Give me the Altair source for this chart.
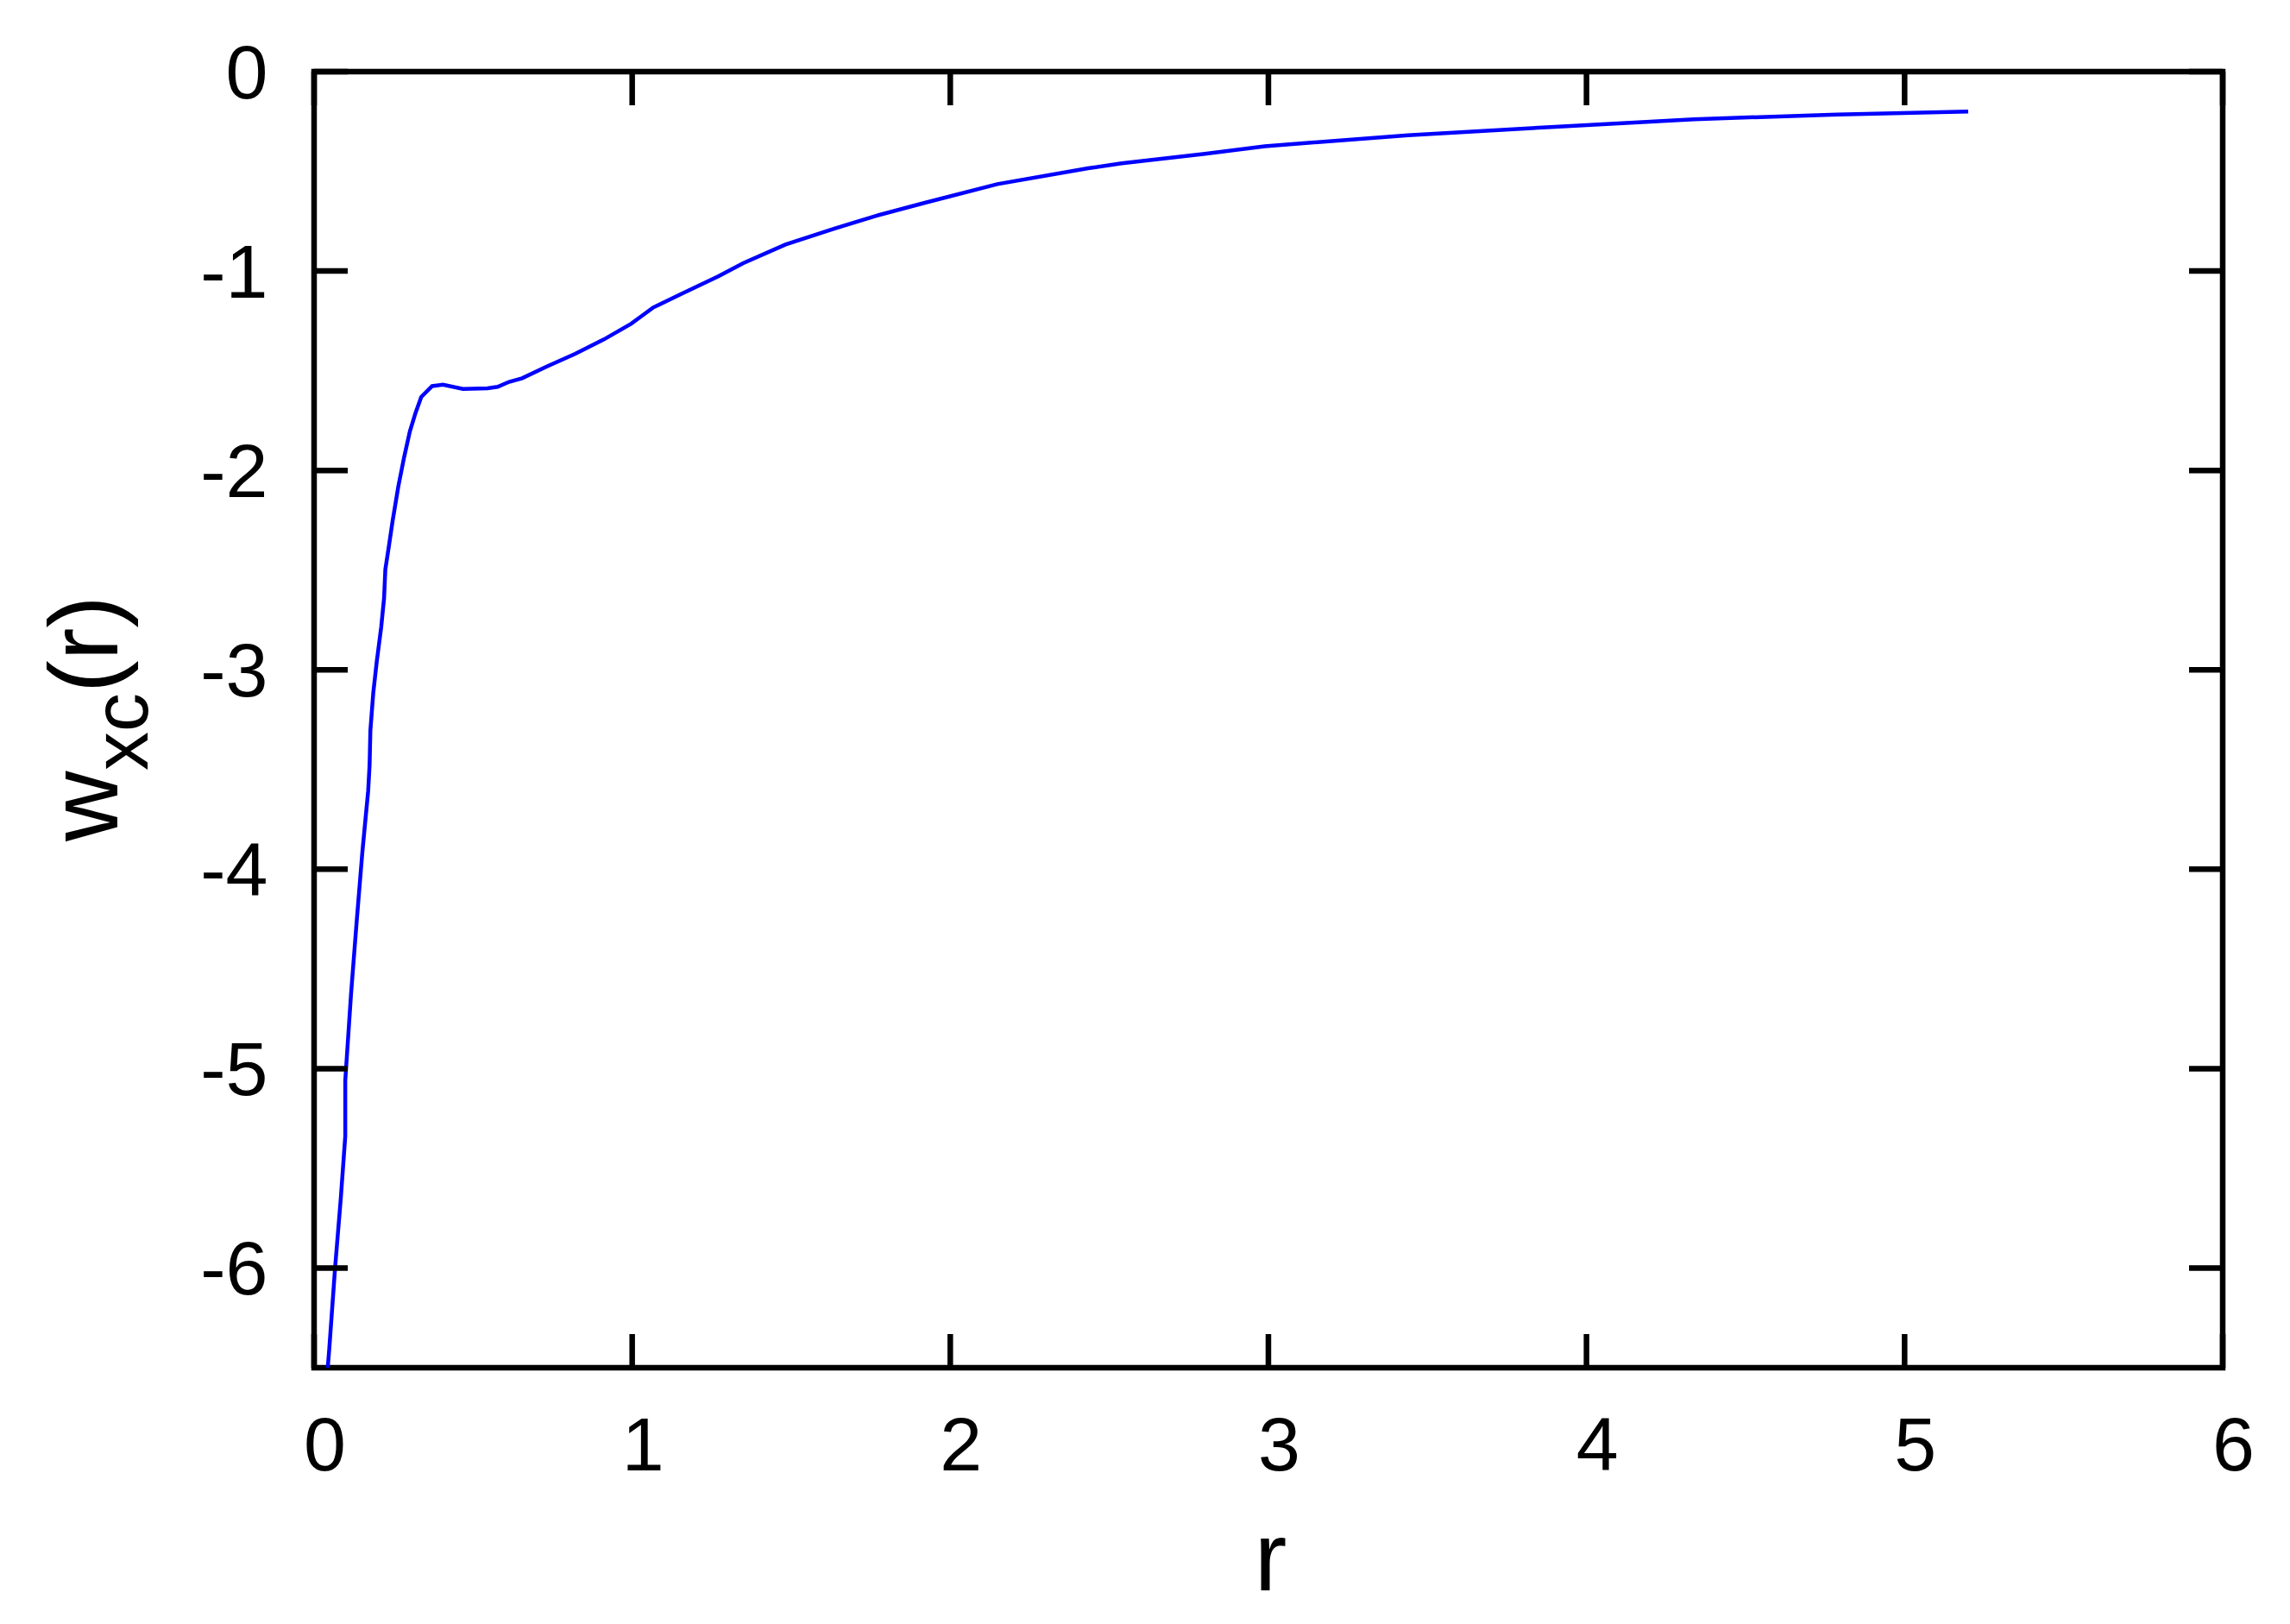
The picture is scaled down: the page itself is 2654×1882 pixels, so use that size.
import altair as alt
import pandas as pd

# ---- data ----
r_vals = [0.043, 0.048, 0.066, 0.084, 0.098, 0.098, 0.116, 0.134, 0.152, 0.170,
          0.1745, 0.177, 0.186, 0.197, 0.211, 0.220, 0.224, 0.235, 0.247, 0.265,
          0.283, 0.301, 0.319, 0.337, 0.371, 0.405, 0.468, 0.545, 0.577, 0.613,
          0.654, 0.730, 0.821, 0.911, 0.997, 1.038, 1.065, 1.158, 1.272, 1.349,
          1.482, 1.634, 1.767, 1.920, 2.148, 2.433, 2.539, 2.795, 2.989, 3.439,
          3.888, 4.338, 4.788, 5.200]
w_vals = [-6.50, -6.40, -6.00, -5.65, -5.34, -5.06, -4.63, -4.26, -3.91, -3.608,
          -3.478, -3.305, -3.117, -2.959, -2.786, -2.641, -2.497, -2.382, -2.252, -2.079,
          -1.934, -1.805, -1.711, -1.631, -1.577, -1.570, -1.591, -1.588, -1.581, -1.556,
          -1.538, -1.480, -1.415, -1.343, -1.264, -1.216, -1.184, -1.112, -1.026, -0.961,
          -0.867, -0.788, -0.723, -0.658, -0.564, -0.485, -0.460, -0.413, -0.374, -0.319,
          -0.278, -0.239, -0.215, -0.200]
x_ticks = [0, 1, 2, 3, 4, 5, 6]
y_ticks = [-6, -5, -4, -3, -2, -1, 0]
x_title = "r"
y_title_parts = ["w", "xc", "(r)"]

# ---- layout / style ----
W, H = 2212, 1502
TICK = 39
FONT = "Liberation Sans"
FRAMEW = 6.5
TICKW = 6.5

xs = alt.Scale(domain=[0, 6], nice=False, zero=False)
ys = alt.Scale(domain=[-6.5, 0], nice=False, zero=False)

curve = pd.DataFrame({"r": r_vals, "w": w_vals, "i": list(range(len(r_vals)))})

line = alt.Chart(curve).mark_line(color="#0000ff", strokeWidth=4.5, clip=True).encode(
    x=alt.X("r:Q", scale=xs, axis=alt.Axis(
        values=x_ticks, title=x_title, ticks=False, tickSize=0, domain=False, grid=False,
        labelFont=FONT, labelFontSize=88, labelColor="black", labelFlush=False,
        labelBaseline="alphabetic", labelPadding=118, labelOffset=12,
        labelExpr="'' + datum.value",
        titleFont=FONT, titleFontSize=113, titleFontWeight="normal", titleColor="black",
        titleX=W / 2 + 2, titleY=257, titleAlign="center", titleBaseline="alphabetic")),
    y=alt.Y("w:Q", scale=ys, axis=alt.Axis(
        values=y_ticks, title=None, ticks=False, tickSize=0, domain=False, grid=False,
        labelFont=FONT, labelFontSize=88, labelColor="black", labelFlush=False,
        labelBaseline="alphabetic", labelPadding=54, labelOffset=30,
        labelExpr="'' + datum.value")),
    order="i:Q",
)

xt = pd.DataFrame({"r": x_ticks})
yt = pd.DataFrame({"w": y_ticks})

xt_bottom = alt.Chart(xt).mark_rule(color="black", strokeWidth=TICKW).encode(
    x=alt.X("r:Q", scale=xs), y=alt.value(H), y2=alt.value(H - TICK))
xt_top = alt.Chart(xt).mark_rule(color="black", strokeWidth=TICKW).encode(
    x=alt.X("r:Q", scale=xs), y=alt.value(0), y2=alt.value(TICK))
yt_left = alt.Chart(yt).mark_rule(color="black", strokeWidth=TICKW).encode(
    y=alt.Y("w:Q", scale=ys), x=alt.value(0), x2=alt.value(TICK))
yt_right = alt.Chart(yt).mark_rule(color="black", strokeWidth=TICKW).encode(
    y=alt.Y("w:Q", scale=ys), x=alt.value(W - TICK), x2=alt.value(W))

def title_piece(txt, size, xpos, ypos):
    return alt.Chart(pd.DataFrame({"t": [txt]})).mark_text(
        angle=270, align="left", baseline="alphabetic", font=FONT, fontSize=size,
        color="black").encode(text="t:N", x=alt.value(xpos), y=alt.value(ypos))

t_w = title_piece(y_title_parts[0], 113, -228, 892)
t_xc = title_piece(y_title_parts[1], 90, -193, 810)
t_r = title_piece(y_title_parts[2], 113, -228, 720)

chart = alt.layer(line, xt_bottom, xt_top, yt_left, yt_right, t_w, t_xc, t_r).properties(
    width=W, height=H,
    autosize=alt.AutoSizeParams(type="none"),
    padding={"left": 356, "top": 75, "right": 60, "bottom": 280},
    background="white",
).configure_view(stroke="black", strokeWidth=FRAMEW)

chart.save("out.html", embed_options={"renderer": "svg", "actions": False})
